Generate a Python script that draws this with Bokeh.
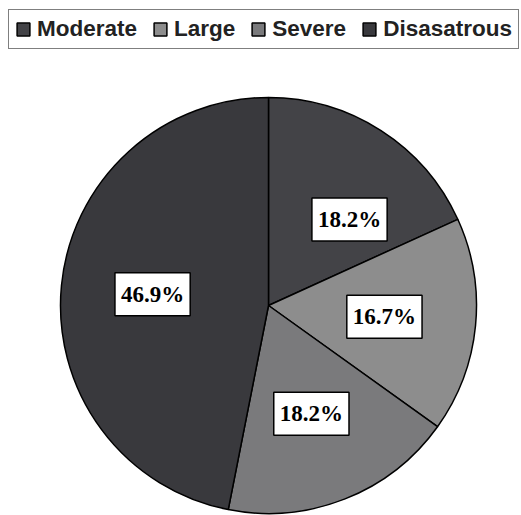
import math
from bokeh.plotting import figure
from bokeh.models import ColumnDataSource, Legend, LegendItem, Range1d
from bokeh.core.properties import value
from bokeh.embed import file_html
from bokeh.resources import INLINE

# ---- data ----
categories = ["Moderate", "Large", "Severe", "Disasatrous"]
shares = [18.2, 16.7, 18.2, 46.9]
labels = ["18.2%", "16.7%", "18.2%", "46.9%"]

# ---- styles ----
colors = ["#434347", "#8d8d8d", "#7a7a7c", "#39393d"]
W, H = 521, 515
cx, cy, R = 268, 515 - 305, 208
label_frac = 0.56
label_nudge = {0: (18, -12)}  # manual label placement (pixels, x right / y up)

total = sum(shares)
starts, ends, lx, ly = [], [], [], []
cum = 0.0
for i, s in enumerate(shares):
    a0 = cum / total
    cum += s
    a1 = cum / total
    # clockwise from 12 o'clock -> bokeh angles (anticlockwise from +x)
    starts.append(math.pi / 2 - a1 * 2 * math.pi)
    ends.append(math.pi / 2 - a0 * 2 * math.pi)
    mid = (a0 + a1) / 2 * 2 * math.pi
    dx, dy = label_nudge.get(i, (0, 0))
    lx.append(cx + label_frac * R * math.sin(mid) + dx)
    ly.append(cy + label_frac * R * math.cos(mid) + dy)

src = ColumnDataSource(dict(cat=categories, start=starts, end=ends, color=colors))
lsrc = ColumnDataSource(dict(x=lx, y=ly, text=labels))

p = figure(width=W, height=H, output_backend="svg", toolbar_location=None,
           x_range=Range1d(0, W), y_range=Range1d(0, H), min_border=0)
p.axis.visible = False
p.grid.visible = False
p.outline_line_color = None
p.background_fill_color = "white"
p.border_fill_color = "white"

wr = p.wedge(x=cx, y=cy, radius=R, start_angle="start", end_angle="end",
             direction="anticlock", fill_color="color", line_color="black",
             line_width=1.5, source=src)

p.text(x="x", y="y", text="text", source=lsrc, text_align="center",
       text_baseline="middle", text_font=value("Liberation Serif"),
       text_font_style="bold", text_font_size="23px", text_color="black",
       background_fill_color="white", border_line_color="black",
       border_line_width=1.5, padding=(6, 9))

items = [LegendItem(label=c, renderers=[wr], index=i)
         for i, c in enumerate(categories)]

legend = Legend(items=items, orientation="horizontal", location=(8, H - 49),
                label_text_font="Liberation Sans", label_text_font_style="bold",
                label_text_font_size="22.5px", label_text_color="#222222",
                glyph_width=16, glyph_height=16, label_standoff=6, spacing=15,
                padding=6, margin=0, border_line_color="black",
                border_line_width=1.5, background_fill_color="white",
                background_fill_alpha=1.0)
p.add_layout(legend, "center")

open("out.html", "w").write(file_html(p, INLINE))
